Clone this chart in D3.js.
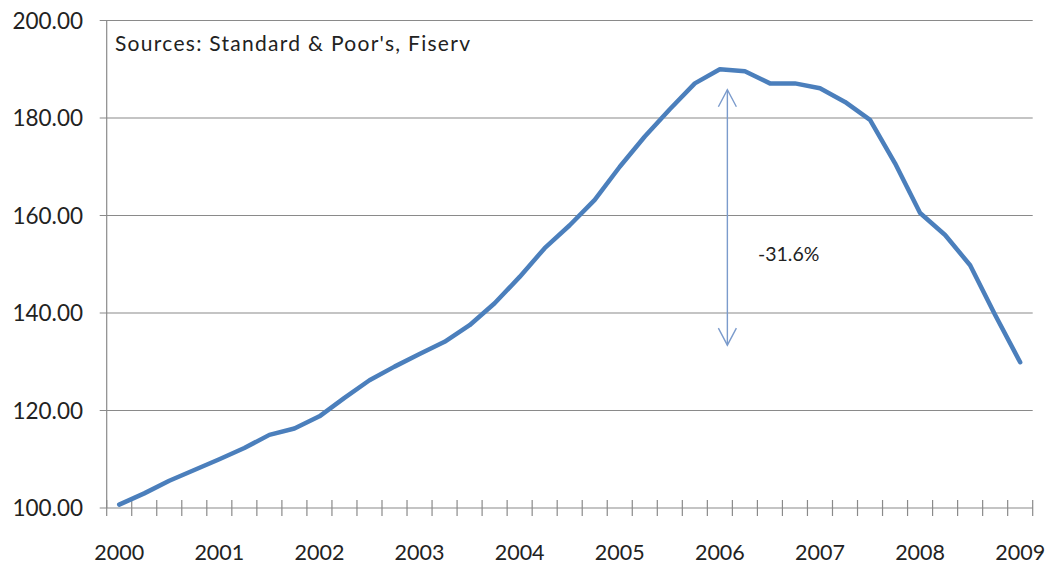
<!DOCTYPE html>
<html>
<head>
<meta charset="utf-8">
<script src="https://cdn.jsdelivr.net/npm/d3@7"></script>
<style>
  body { margin: 0; background: #fff; }
  svg text { font-family: Lato, "Open Sans", sans-serif; fill: #222; }
</style>
</head>
<body>
<svg id="chart" width="1048" height="567"></svg>
<script>
// Home price index, quarterly, 2000 Q1 - 2009 Q1
const years = ["2000", "2001", "2002", "2003", "2004", "2005", "2006", "2007", "2008", "2009"];
const indexValues = [
  100.7, 103.0, 105.6, 107.8,
  110.0, 112.3, 115.0, 116.3,
  118.8, 122.6, 126.2, 129.0,
  131.6, 134.1, 137.5, 142.0,
  147.4, 153.3, 158.0, 163.2,
  170.0, 176.2, 181.8, 187.1,
  190.0, 189.6, 187.1, 187.1,
  186.1, 183.3, 179.6, 170.7,
  160.5, 156.0, 149.8, 139.6,
  129.9
];
const yTicks = [100, 120, 140, 160, 180, 200];

// Annotation: drop from peak
const arrowPos = 24.3;      // in quarter units
const arrowTop = 185.8;
const arrowBottom = 133.4;
const dropLabel = "-31.6%";
const sourceLabel = "Sources: Standard & Poor's, Fiserv";

const svg = d3.select("#chart");

const plotLeft = 106.7, plotRight = 1032.7, plotTop = 20.5, plotBottom = 508;
const n = indexValues.length;

const x = d3.scaleLinear()
  .domain([-0.5, n - 0.5])
  .range([plotLeft, plotRight]);

const y = d3.scaleLinear()
  .domain([100, 200])
  .range([plotBottom, plotTop]);

const gridColor = "#8a8a8a";

// Gridlines + y tick marks
svg.append("g")
  .selectAll("line")
  .data(yTicks)
  .enter()
  .append("line")
  .attr("x1", plotLeft - 7)
  .attr("x2", plotRight)
  .attr("y1", d => y(d))
  .attr("y2", d => y(d))
  .attr("stroke", gridColor)
  .attr("stroke-width", 1.2);

// y labels
svg.append("g")
  .selectAll("text")
  .data(yTicks)
  .enter()
  .append("text")
  .attr("x", 83)
  .attr("y", d => y(d))
  .attr("dy", "0.36em")
  .attr("text-anchor", "end")
  .attr("font-size", "22.5px")
  .text(d => d.toFixed(2));

// y axis line
svg.append("line")
  .attr("x1", plotLeft).attr("x2", plotLeft)
  .attr("y1", plotTop).attr("y2", plotBottom)
  .attr("stroke", gridColor)
  .attr("stroke-width", 1.2);

// x axis: tick marks between categories (crossing the axis)
svg.append("g")
  .selectAll("line")
  .data(d3.range(n + 1).map(i => i - 0.5))
  .enter()
  .append("line")
  .attr("x1", d => x(d))
  .attr("x2", d => x(d))
  .attr("y1", plotBottom - 8)
  .attr("y2", plotBottom + 8)
  .attr("stroke", gridColor)
  .attr("stroke-width", 1.2);

// year labels every 4 quarters
svg.append("g")
  .selectAll("text")
  .data(years)
  .enter()
  .append("text")
  .attr("x", (d, i) => x(i * 4))
  .attr("y", 560)
  .attr("text-anchor", "middle")
  .attr("font-size", "21.5px")
  .text(d => d);

// Data line
const line = d3.line()
  .x((d, i) => x(i))
  .y(d => y(d));

svg.append("path")
  .datum(indexValues)
  .attr("d", line)
  .attr("fill", "none")
  .attr("stroke", "#4b7fbc")
  .attr("stroke-width", 4.5)
  .attr("stroke-linejoin", "round")
  .attr("stroke-linecap", "round");

// Double arrow annotation
const arrowColor = "#7b9bcc";
const ax = x(arrowPos);
const yTop = y(arrowTop), yBot = y(arrowBottom);
const arrow = svg.append("g")
  .attr("stroke", arrowColor)
  .attr("stroke-width", 1.4)
  .attr("fill", "none");

arrow.append("line")
  .attr("x1", ax).attr("x2", ax)
  .attr("y1", yTop).attr("y2", yBot);

arrow.append("path")
  .attr("d", `M${ax - 9},${yTop + 17} L${ax},${yTop} L${ax + 9},${yTop + 17}`);

arrow.append("path")
  .attr("d", `M${ax - 9},${yBot - 17} L${ax},${yBot} L${ax + 9},${yBot - 17}`);

svg.append("text")
  .attr("x", 758)
  .attr("y", 261)
  .attr("font-size", "19.5px")
  .text(dropLabel);

svg.append("text")
  .attr("x", 115)
  .attr("y", 51)
  .attr("font-size", "21px")
  .attr("textLength", 355)
  .attr("lengthAdjust", "spacing")
  .text(sourceLabel);
</script>
</body>
</html>
